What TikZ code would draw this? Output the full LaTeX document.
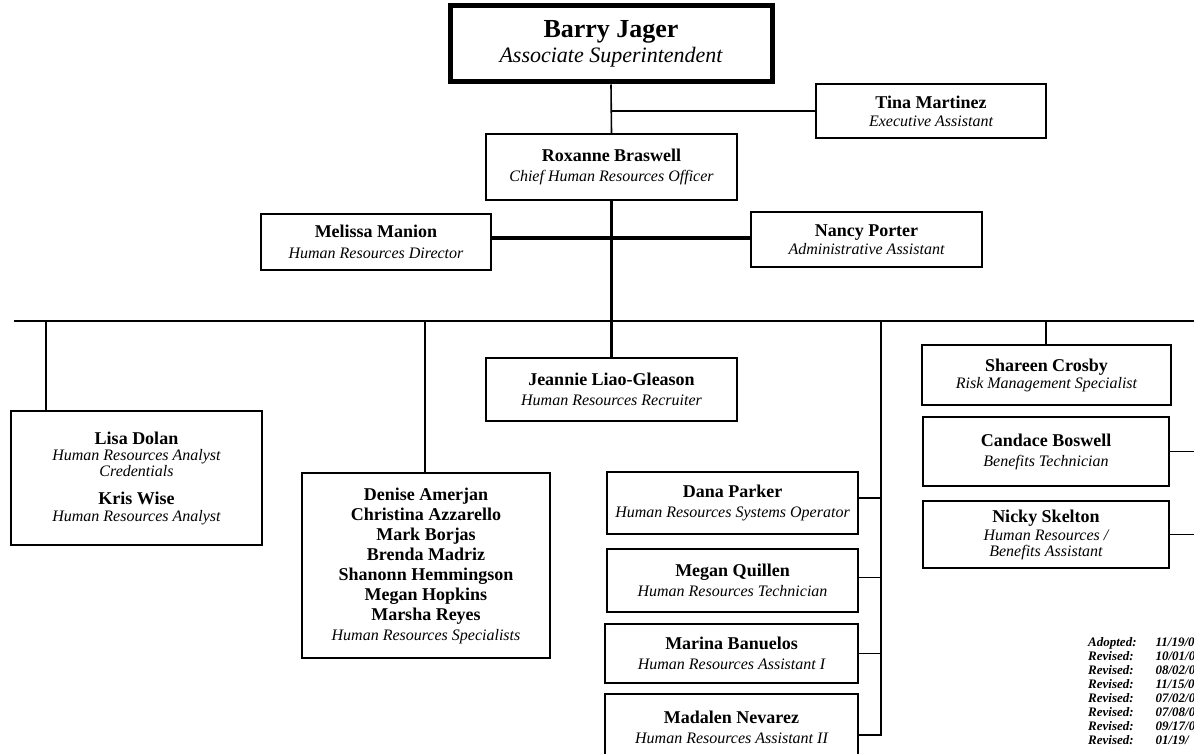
\documentclass[tikz,border=0pt]{standalone}
\usepackage{fontspec}
\setmainfont{Liberation Serif}
\usepackage{tikz}

\newcommand{\who}[1]{\textbf{#1}}
\newcommand{\role}[1]{{\fontsize{16}{18}\selectfont\itshape #1}}

\begin{document}
\begin{tikzpicture}[x=1pt,y=-1pt,
  thin line/.style={line width=1.6pt},
  thick line/.style={line width=3.5pt},
  staff node/.style={draw,line width=1.6pt,inner sep=0pt,align=center,
    font=\fontsize{18}{20}\selectfont}]
  \useasboundingbox (0,0) rectangle (1194,754);

  % top of the chart
  \node[staff node,line width=5pt,minimum width=322,minimum height=76,
    font=\fontsize{26}{25}\selectfont] (barry) at (611,44)
    {\who{Barry Jager}\\{\fontsize{22}{24}\selectfont\itshape Associate Superintendent}};
  \node[staff node,minimum width=230,minimum height=54] (tina) at (931,111)
    {\who{Tina Martinez}\\[-2pt]\role{Executive Assistant}};
  \node[staff node,minimum width=251,minimum height=66] (roxanne) at (611.5,167)
    {\who{Roxanne Braswell}\\\role{Chief Human Resources Officer}};
  \node[staff node,minimum width=230,minimum height=56] (melissa) at (376,242)
    {\who{Melissa Manion}\\[1pt]\role{Human Resources Director}};
  \node[staff node,minimum width=231,minimum height=55] (nancy) at (866.5,239.5)
    {\who{Nancy Porter}\\[-2pt]\role{Administrative Assistant}};
  \node[staff node,minimum width=251,minimum height=63] (jeannie) at (611.5,389.5)
    {\who{Jeannie Liao-Gleason}\\\role{Human Resources Recruiter}};

  % left side
  \node[staff node,minimum width=251,minimum height=134] (lisa) at (136.5,478)
    {\who{Lisa Dolan}\\[-4pt]\role{Human Resources Analyst}\\[-4pt]\role{Credentials}\\[8pt]
     \who{Kris Wise}\\[-3pt]\role{Human Resources Analyst}};
  \node[staff node,minimum width=248,minimum height=185] (denise) at (426,565.5)
    {\who{Denise Amerjan}\\\who{Christina Azzarello}\\\who{Mark Borjas}\\\who{Brenda Madriz}\\
     \who{Shanonn Hemmingson}\\\who{Megan Hopkins}\\\who{Marsha Reyes}\\\role{Human Resources Specialists}};

  % middle column
  \node[staff node,minimum width=251,minimum height=62] (dana) at (732.5,503)
    {\who{Dana Parker}\\\role{Human Resources Systems Operator}};
  \node[staff node,minimum width=251,minimum height=63] (megan) at (732.5,580.5)
    {\who{Megan Quillen}\\\role{Human Resources Technician}};
  \node[staff node,minimum width=253,minimum height=59] (marina) at (731.5,653.5)
    {\who{Marina Banuelos}\\\role{Human Resources Assistant I}};
  \node[staff node,minimum width=253,minimum height=66] (madalen) at (731.5,727)
    {\who{Madalen Nevarez}\\\role{Human Resources Assistant II}};

  % right column
  \node[staff node,minimum width=249,minimum height=60] (shareen) at (1046.5,375)
    {\who{Shareen Crosby}\\[-3pt]\role{Risk Management Specialist}};
  \node[staff node,minimum width=246,minimum height=69] (candace) at (1046,451.5)
    {\who{Candace Boswell}\\\role{Benefits Technician}};
  \node[staff node,minimum width=246,minimum height=67] (nicky) at (1046,534.5)
    {\who{Nicky Skelton}\\[-2pt]\role{Human Resources /}\\[-4pt]\role{Benefits Assistant}};

  % adoption dates
  \node[anchor=north west,inner sep=0pt,font=\fontsize{13}{14}\selectfont\bfseries\itshape] (revisions) at (1088,636)
    {\begin{tabular}{@{}l@{\hspace{19pt}}l@{}}
      Adopted: & 11/19/0\\ Revised: & 10/01/0\\ Revised: & 08/02/0\\ Revised: & 11/15/0\\
      Revised: & 07/02/0\\ Revised: & 07/08/0\\ Revised: & 09/17/0\\ Revised: & 01/19/
     \end{tabular}};

  % connectors
  \coordinate (trunk) at (611.5,238);
  \coordinate (busL) at (14,321);
  \coordinate (busR) at (1194,321);
  \coordinate (dropA) at (46,321);
  \coordinate (dropB) at (425,321);
  \coordinate (dropC) at (881,321);
  \coordinate (dropD) at (1046,321);

  \draw[thin line] (barry.south) -- (roxanne.north);
  \draw[thin line] (tina.west) -- (tina.west -| barry.south);
  \draw[thick line] (roxanne.south) -- (jeannie.north);
  \draw[thick line] (melissa.east |- trunk) -- (nancy.west |- trunk);
  \draw[thin line] (busL) -- (busR);
  \draw[thin line] (dropA) -- (dropA |- lisa.north);
  \draw[thin line] (dropB) -- (dropB |- denise.north);
  \draw[thin line] (dropD) -- (dropD |- shareen.north);
  \draw[thin line] (dropC) |- ([yshift=-8pt]madalen.east);
  \draw[thin line] ([yshift=5pt]dana.east) -- ([yshift=5pt]dana.east -| dropC);
  \draw[thin line] ([yshift=3pt]megan.east) -- ([yshift=3pt]megan.east -| dropC);
  \draw[thin line] (marina.east) -- (marina.east -| dropC);
  \draw[thin line] (candace.east) -- (candace.east -| busR);
  \draw[thin line] (nicky.east) -- (nicky.east -| busR);
\end{tikzpicture}
\end{document}
